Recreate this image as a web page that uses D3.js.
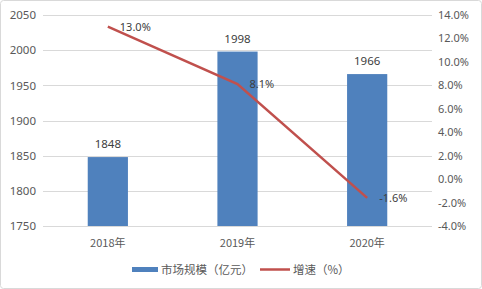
<!DOCTYPE html>
<html><head><meta charset="utf-8">
<script src="https://cdn.jsdelivr.net/npm/d3@7/dist/d3.min.js"></script>
<style>
html,body{margin:0;padding:0;background:#fff;}
svg{display:block;font-family:"Noto Sans CJK SC","Noto Sans",sans-serif;}
</style></head>
<body>
<svg id="c" width="482" height="289"></svg>
<script>
const categories = ["2018年","2019年","2020年"];
const marketSize = [1848,1998,1966];
const growth = [13.0,8.1,-1.6];
const leftTicks = [1750,1800,1850,1900,1950,2000,2050];
const rightTicks = [-4,-2,0,2,4,6,8,10,12,14];
const legendLabels = ["市场规模（亿元）","增速（%）"];

(function(){
const svg = d3.select("#c");
const W=482,H=289;
const pLeft=43,pRight=432,pTop=15,pBottom=226;
const textColor="#595959";

svg.append("rect").attr("x",0.5).attr("y",0.5).attr("width",W-1).attr("height",H-1)
  .attr("rx",3).attr("fill","#fff").attr("stroke","#d9d9d9");

const x = d3.scaleBand().domain(categories).range([pLeft,pRight]).paddingInner(0.69).paddingOuter(0.345);
const yL = d3.scaleLinear().domain([1750,2050]).range([pBottom,pTop]);
const yR = d3.scaleLinear().domain([-4,14]).range([pBottom,pTop]);

svg.append("g").selectAll("line").data(leftTicks).join("line")
  .attr("x1",pLeft).attr("x2",pRight)
  .attr("y1",d=>Math.round(yL(d))+0.5).attr("y2",d=>Math.round(yL(d))+0.5)
  .attr("stroke","#d9d9d9").attr("stroke-width",1);

const gl = svg.append("g").attr("transform",`translate(${pLeft},0)`)
  .call(d3.axisLeft(yL).tickValues(leftTicks).tickSize(0).tickPadding(7).tickFormat(d3.format("d")));
gl.select(".domain").remove();
gl.selectAll("text").attr("fill",textColor).style("font-size","11.5px").style("font-family","'Noto Sans','DejaVu Sans',sans-serif");

const gr = svg.append("g").attr("transform",`translate(${pRight},0)`)
  .call(d3.axisRight(yR).tickValues(rightTicks).tickSize(0).tickPadding(6).tickFormat(d=>d.toFixed(1)+"%"));
gr.select(".domain").remove();
gr.selectAll("text").attr("fill",textColor).style("font-size","11px").style("font-family","'Noto Sans','DejaVu Sans',sans-serif");

svg.append("g").selectAll("rect").data(marketSize).join("rect")
  .attr("x",(d,i)=>x(categories[i])).attr("width",x.bandwidth())
  .attr("y",d=>yL(d)).attr("height",d=>pBottom-yL(d)).attr("fill","#4f81bd");

svg.append("g").selectAll("text").data(marketSize).join("text")
  .attr("x",(d,i)=>x(categories[i])+x.bandwidth()/2).attr("y",d=>yL(d)-9)
  .attr("text-anchor","middle").attr("fill","#404040").style("font-size","11.5px")
  .style("font-family","'Noto Sans','DejaVu Sans',sans-serif").text(d=>d);

svg.append("line").attr("x1",pLeft).attr("x2",pRight).attr("y1",pBottom+0.5).attr("y2",pBottom+0.5).attr("stroke","#d9d9d9");

svg.append("g").selectAll("text").data(categories).join("text")
  .attr("x",d=>x(d)+x.bandwidth()/2).attr("y",247)
  .attr("text-anchor","middle").attr("fill",textColor).style("font-size","11px").text(d=>d);

const cx = (i)=>x(categories[i])+x.bandwidth()/2;
svg.append("path").datum(growth)
  .attr("d",d3.line().x((d,i)=>cx(i)).y(d=>yR(d)))
  .attr("fill","none").attr("stroke","#c0504d").attr("stroke-width",2.5);

svg.append("g").selectAll("text").data(growth).join("text")
  .attr("x",(d,i)=>cx(i)+12).attr("y",d=>yR(d)+4)
  .attr("fill","#404040").style("font-size","11px")
  .style("font-family","'Noto Sans','DejaVu Sans',sans-serif").text(d=>d.toFixed(1)+"%");

const lg = svg.append("g");
lg.append("rect").attr("x",132).attr("y",267).attr("width",26).attr("height",5).attr("fill","#4f81bd");
lg.append("text").attr("x",161).attr("y",274).attr("fill",textColor).style("font-size","11.5px").text(legendLabels[0]);
lg.append("line").attr("x1",260).attr("x2",290).attr("y1",269.5).attr("y2",269.5).attr("stroke","#c0504d").attr("stroke-width",2.5);
lg.append("text").attr("x",293).attr("y",274).attr("fill",textColor).style("font-size","11.5px").text(legendLabels[1]);
})();
</script>
</body></html>
